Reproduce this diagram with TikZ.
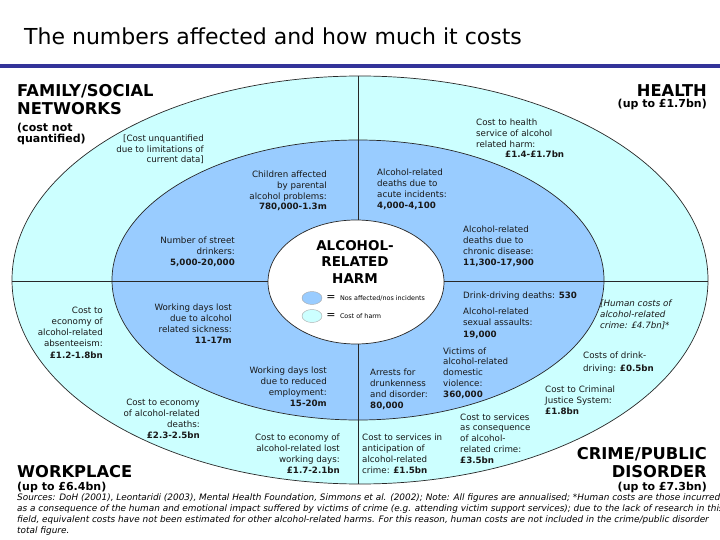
\documentclass[tikz,border=0pt]{standalone}
\usepackage{fontspec}
\setmainfont{DejaVu Sans}
\usepackage{xcolor}
\usetikzlibrary{positioning,shapes.geometric}

\definecolor{costcol}{RGB}{204,255,255}
\definecolor{numcol}{RGB}{153,204,255}
\definecolor{barcol}{RGB}{51,51,153}
\definecolor{rimcol}{RGB}{40,40,40}

\tikzset{
  rim/.style={draw=rimcol, line width=0.7pt},
  lbl/.style={font=\fontsize{8.7}{10.7}\selectfont, inner sep=0pt, text=black!90},
  lblL/.style={lbl, anchor=base west, align=left},
  lblR/.style={lbl, anchor=base east, align=right},
  big/.style={font=\fontsize{16.3}{18}\selectfont\bfseries, inner sep=0pt},
  sub/.style={font=\fontsize{11}{11.5}\selectfont\bfseries, inner sep=0pt},
  core/.style={font=\fontsize{13.5}{16.5}\selectfont\bfseries, inner sep=0pt, align=center},
  key/.style={ellipse, draw=black!35, minimum width=20pt, minimum height=13pt, inner sep=0pt},
  keytxt/.style={font=\fontsize{6.4}{7}\selectfont, inner sep=0pt},
  note/.style={font=\fontsize{8.9}{11}\selectfont\itshape, inner sep=0pt, anchor=base west, align=left}
}

\begin{document}
\begin{tikzpicture}[x=1pt,y=-1pt]
\useasboundingbox (0,0) rectangle (720,540);
% заголовок
\node [font=\fontsize{22}{24}\selectfont, inner sep=0pt, anchor=base west] (ttl) at (24,45) {The numbers affected and how much it costs};
\coordinate (barL) at (0,66);
\coordinate (barR) at (720,66);
\draw [barcol, line width=4pt] (barL) -- (barR);
% эллипсы
\draw [rim, fill=costcol] (360,280) ellipse [x radius=348pt, y radius=204pt];
\draw [rim, fill=numcol] (358,280) ellipse [x radius=246pt, y radius=140pt];
\coordinate (top) at (358,76);
\coordinate (bot) at (358,484);
\coordinate (lft) at (12,281);
\coordinate (rgt) at (708,281);
\draw [rim] (top) -- (bot);
\draw [rim] (lft) -- (rgt);
\draw [rim, fill=white] (356,282) ellipse [x radius=88pt, y radius=62pt];
% центр и легенда (base = последняя строка)
\node [core, anchor=base] (harm) at (355,283) {ALCOHOL-\\RELATED\\HARM};
\node [key, fill=numcol] (k1) at (312,298) {};
\node [key, fill=costcol] (k2) at (312,316) {};
\node [font=\fontsize{11}{11}\selectfont, inner sep=0pt, right=4pt of k1] (eq1) {=};
\node [font=\fontsize{11}{11}\selectfont, inner sep=0pt, right=4pt of k2] (eq2) {=};
\node [keytxt, right=4pt of eq1] (t1) {Nos affected/nos incidents};
\node [keytxt, right=4pt of eq2] (t2) {Cost of harm};
% семья
\node [big, anchor=base west, align=left] (fam) at (17,115) {FAMILY/SOCIAL\\NETWORKS};
\node [sub, anchor=base west, align=left] (famsub) at (17,143) {(cost not\\quantified)};
\node [lblR] (famcost) at (204,163) {[Cost unquantified\\due to limitations of\\current data]};
\node [lblR] (kids) at (327,210) {Children affected\\by parental\\alcohol problems:\\\textbf{780,000-1.3m}};
\node [lblR] (street) at (235,265) {Number of street\\drinkers:\\\textbf{5,000-20,000}};
% здоровье
\node [big, anchor=base east] (hlt) at (707,97) {HEALTH};
\node [sub, anchor=base east] (hltsub) at (707,108) {(up to £1.7bn)};
\node [lblL] (hltcost) at (476,158) {Cost to health\\service of alcohol\\related harm:\\\hspace*{29pt}\textbf{£1.4-£1.7bn}};
\node [lblL] (acute) at (377,208) {Alcohol-related\\deaths due to\\acute incidents:\\\textbf{4,000-4,100}};
\node [lblL] (chronic) at (463,265) {Alcohol-related\\deaths due to\\chronic disease:\\\textbf{11,300-17,900}};
% работа
\node [lblR, font=\fontsize{8.7}{11.2}\selectfont] (absent) at (103,358) {Cost to\\economy of\\alcohol-related\\absenteeism:\\\textbf{£1.2-1.8bn}};
\node [lblR] (sick) at (232,343) {Working days lost\\due to alcohol\\related sickness:\\\textbf{11-17m}};
\node [lblR] (employ) at (327,406) {Working days lost\\due to reduced\\employment:\\\textbf{15-20m}};
\node [lblR] (deaths) at (200,438) {Cost to economy\\of alcohol-related\\deaths:\\\textbf{£2.3-2.5bn}};
\node [lblR] (lostdays) at (340,473) {Cost to economy of\\alcohol-related lost\\working days:\\\textbf{£1.7-2.1bn}};
\node [big, anchor=base west] (work) at (17,477) {WORKPLACE};
\node [sub, anchor=base west] (worksub) at (17,490) {(up to £6.4bn)};
% преступность
\node [lblL] (drive) at (463,298) {Drink-driving deaths: \textbf{530}};
\node [lblL, font=\fontsize{8.7}{11.5}\selectfont] (assault) at (463,337) {Alcohol-related\\sexual assaults:\\\textbf{19,000}};
\node [lblL, font=\fontsize{8.7}{10.6}\selectfont\itshape] (human) at (600,328) {[Human costs of\\alcohol-related\\crime: £4.7bn]*};
\node [lblL] (victims) at (443,397) {Victims of\\alcohol-related\\domestic\\violence:\\\textbf{360,000}};
\node [lblL] (arrest) at (370,408) {Arrests for\\drunkenness\\and disorder:\\\textbf{80,000}};
\node [lblL, font=\fontsize{8.7}{12.5}\selectfont] (drivecost) at (583,371) {Costs of drink-\\driving: \textbf{£0.5bn}};
\node [lblL] (justice) at (545,414) {Cost to Criminal\\Justice System:\\\textbf{£1.8bn}};
\node [lblL] (conseq) at (460,463) {Cost to services\\as consequence\\of alcohol-\\related crime:\\\textbf{£3.5bn}};
\node [lblL] (anticip) at (362,473) {Cost to services in\\anticipation of\\alcohol-related\\crime: \textbf{£1.5bn}};
\node [big, anchor=base east, align=right] (crime) at (707,477) {CRIME/PUBLIC\\DISORDER};
\node [sub, anchor=base east] (crimesub) at (707,490) {(up to £7.3bn)};
% источники
\node [note] (src) at (17,533) {Sources: DoH (2001), Leontaridi (2003), Mental Health Foundation, Simmons et al. (2002); Note: All figures are annualised; *Human costs are those incurred\\as a consequence of the human and emotional impact suffered by victims of crime (e.g. attending victim support services); due to the lack of research in this\\field, equivalent costs have not been estimated for other alcohol-related harms. For this reason, human costs are not included in the crime/public disorder\\total figure.};
\end{tikzpicture}
\end{document}
